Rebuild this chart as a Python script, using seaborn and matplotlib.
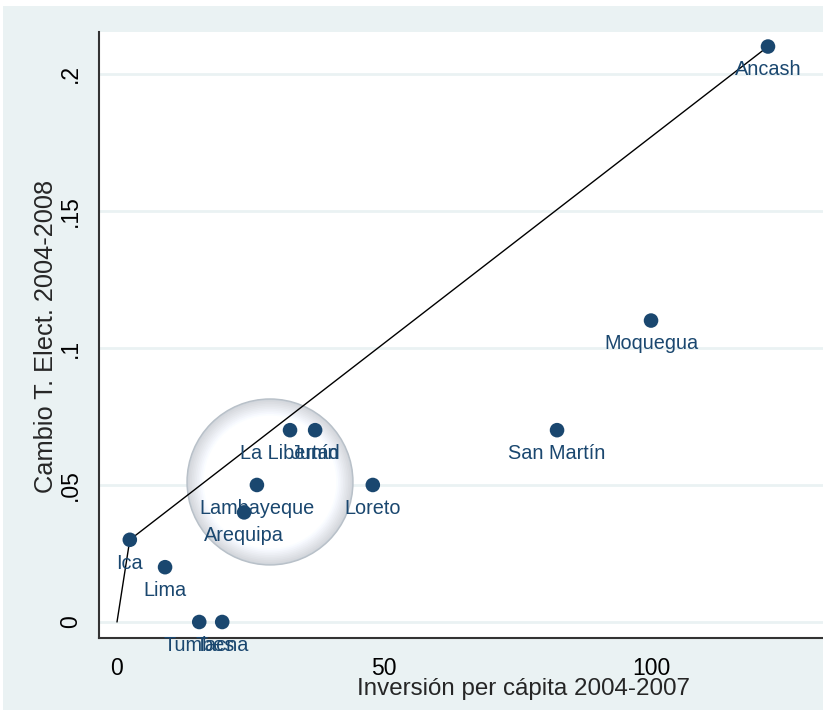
import numpy as np
import pandas as pd
import matplotlib
matplotlib.use('Agg')
import matplotlib.pyplot as plt
from matplotlib.patches import Ellipse, Rectangle
import seaborn as sns

# data
regions = ['Ancash', 'Moquegua', 'San Martín', 'Loreto', 'La Libertad', 'Junín',
           'Lambayeque', 'Arequipa', 'Ica', 'Lima', 'Tumbes', 'Tacna']
inversion = [121.9, 100.0, 82.4, 47.9, 32.4, 37.1, 26.2, 23.8, 2.4, 9.0, 15.4, 19.7]
cambio = [0.21, 0.11, 0.07, 0.05, 0.07, 0.07, 0.05, 0.04, 0.03, 0.02, 0.0, 0.0]

# frontier line
front_x = [0, 2.4, 121.9]
front_y = [0, 0.03, 0.21]

NAVY = '#1a476f'
BG = '#eaf2f3'

sns.set_style('white')
plt.rcParams['font.family'] = ['Liberation Sans', 'DejaVu Sans']

df = pd.DataFrame({'region': regions, 'x': inversion, 'y': cambio})
fr = pd.DataFrame({'x': front_x, 'y': front_y})

fig = plt.figure(figsize=(8.23, 7.10), dpi=100)
fig.patch.set_facecolor('white')
fig.patches.append(Rectangle((3/823, 0), 1, 1 - 6/710, transform=fig.transFigure,
                             facecolor=BG, edgecolor='none', zorder=-10))
ax = fig.add_axes([99/823, 1 - 638/710, 1 - 99/823, (638 - 32)/710])
ax.set_facecolor('white')

# grid
for yv in [0, 0.05, 0.1, 0.15, 0.2]:
    ax.axhline(yv, color=BG, lw=2, zorder=0)

# magnifier lens
cx, cy, rx, ry = 28.65, 0.0511, 83/5.34, 83/2740
ax.add_patch(Ellipse((cx, cy), 2*rx, 2*ry, facecolor='#c9d0d8', edgecolor='#b8c0c8',
                     lw=1, zorder=1))
for f, c in zip(np.linspace(0.985, 0.80, 10), np.linspace(0.84, 1.0, 10)):
    col = (c, min(1, c + 0.01), min(1, c + 0.03))
    ax.add_patch(Ellipse((cx, cy), 2*rx*f, 2*ry*f, facecolor=col, edgecolor='none', zorder=1))

sns.lineplot(data=fr, x='x', y='y', sort=False, color='black', lw=1, ax=ax, zorder=2)
sns.scatterplot(data=df, x='x', y='y', color=NAVY, s=110, edgecolor='none', ax=ax, zorder=3)

for _, r in df.iterrows():
    ax.annotate(r['region'], (r['x'], r['y']), xytext=(0, -10), textcoords='offset points',
                ha='center', va='top', fontsize=14.3, color=NAVY, zorder=4)

ax.set_xlim(-3.37, 132.2)
ax.set_ylim(-0.00584, 0.2153)
ax.set_xticks([0, 50, 100])
ax.set_xticklabels(['0', '50', '100'])
ax.set_yticks([0, 0.05, 0.1, 0.15, 0.2])
ax.set_yticklabels(['0', '.05', '.1', '.15', '.2'], rotation=90, va='center')
ax.tick_params(axis='both', direction='out', length=7.5, width=1, color='#333333',
               labelsize=16.5, labelcolor='black')
ax.tick_params(axis='x', pad=6)
ax.tick_params(axis='y', pad=5)

for s in ['top', 'right']:
    ax.spines[s].set_visible(False)
for s in ['left', 'bottom']:
    ax.spines[s].set_color('#333333')
    ax.spines[s].set_linewidth(1.5)

ax.set_xlabel('Inversión per cápita 2004-2007', fontsize=17.4)
ax.set_ylabel('Cambio T. Elect. 2004-2008', fontsize=18.3)
ax.xaxis.set_label_coords(0.587, -0.066)
ax.yaxis.set_label_coords(-0.057, 0.498)

fig.savefig('out.png', dpi=100, facecolor=fig.get_facecolor())
